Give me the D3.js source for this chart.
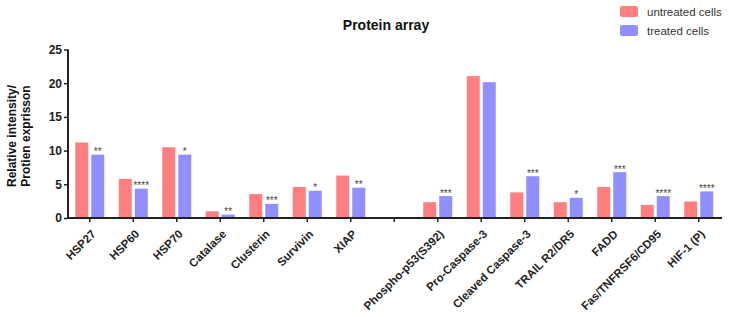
<!DOCTYPE html>
<html><head><meta charset="utf-8">
<script src="https://cdn.jsdelivr.net/npm/d3@7"></script>
<style>
body{margin:0;background:#fff;}
svg{display:block;font-family:"Liberation Sans",Arial,sans-serif;}
</style></head>
<body><svg id="c" width="729" height="317"></svg>
<script>
const categories = ["HSP27","HSP60","HSP70","Catalase","Clusterin","Survivin","XIAP","",
  "Phospho-p53(S392)","Pro-Caspase-3","Cleaved Caspase-3","TRAIL R2/DR5","FADD","Fas/TNFRSF6/CD95","HIF-1 (P)"];
const untreated = [11.2,5.8,10.5,1.0,3.55,4.6,6.3,null,2.35,21.05,3.8,2.35,4.6,1.95,2.45];
const treated   = [9.4,4.35,9.4,0.5,2.1,4.05,4.5,null,3.25,20.15,6.2,3.0,6.8,3.25,3.95];
const significance = ["**","****","*","**","***","*","**","","***","","***","*","***","****","****"];
const yTicks = [0,5,10,15,20,25];
const seriesNames = ["untreated cells","treated cells"];
const colors = ["#FF7F80","#8F8FFF"];

const svg = d3.select("#c");
const x = d3.scaleBand().domain(d3.range(categories.length)).range([68,720.5]).paddingInner(0).paddingOuter(0);
const y = d3.scaleLinear().domain([0,25]).range([218,49.5]);
const bw = 13, gap = 1.5;

// bars
categories.forEach((c,i)=>{
  const cx = x(i)+x.bandwidth()/2;
  if(untreated[i]!=null){
    svg.append("rect").attr("x",cx-gap-bw).attr("y",y(untreated[i])).attr("width",bw)
      .attr("height",y(0)-y(untreated[i])).attr("fill",colors[0]);
  }
  if(treated[i]!=null){
    svg.append("rect").attr("x",cx+gap).attr("y",y(treated[i])).attr("width",bw)
      .attr("height",y(0)-y(treated[i])).attr("fill",colors[1]);
    if(significance[i]){
      svg.append("text").attr("x",cx+gap+bw/2).attr("y",y(treated[i])+0.5)
        .attr("text-anchor","middle").attr("font-size",10).attr("fill","#444").text(significance[i]);
    }
  }
});

// y axis
const yAxis = d3.axisLeft(y).tickValues(yTicks).tickSize(4).tickPadding(2);
const gy = svg.append("g").attr("transform","translate(68,0)").call(yAxis);
gy.select(".domain").attr("stroke","#222").attr("stroke-width",2).attr("d","M0,"+y(25)+"V"+y(0));
gy.selectAll(".tick line").attr("stroke","#222").attr("stroke-width",1.5);
gy.selectAll(".tick text").attr("font-size",12).attr("font-weight","bold").attr("fill","#222")
  .attr("font-family","'Liberation Sans',Arial,sans-serif");

// x axis
const xAxis = d3.axisBottom(x).tickFormat(i=>categories[i]).tickSize(4).tickPadding(3);
const gx = svg.append("g").attr("transform","translate(0,218)").call(xAxis);
gx.select(".domain").attr("stroke","#222").attr("stroke-width",2).attr("d","M67,0H722");
gx.selectAll(".tick line").attr("stroke","#222").attr("stroke-width",1.5);
gx.selectAll(".tick text").attr("font-size",11.5).attr("font-weight","bold").attr("fill","#222")
  .attr("font-family","'Liberation Sans',Arial,sans-serif")
  .attr("text-anchor","end").attr("dy","0.35em")
  .attr("transform","translate(-1,9) rotate(-45)");

// title
svg.append("text").attr("x",386).attr("y",30).attr("text-anchor","middle")
  .attr("font-size",14).attr("font-weight","bold").attr("fill","#111").text("Protein array");

// y label
const yl = svg.append("text").attr("transform","translate(16,136) rotate(-90)")
  .attr("text-anchor","middle").attr("font-size",12).attr("font-weight","bold").attr("fill","#111");
yl.append("tspan").attr("x",0).attr("dy",0).text("Relative intensity/");
yl.append("tspan").attr("x",0).attr("dy",14).text("Protien exprisson");

// legend
seriesNames.forEach((n,i)=>{
  svg.append("rect").attr("x",620).attr("y",6+i*19).attr("width",18).attr("height",11)
    .attr("rx",2).attr("fill",colors[i]);
  svg.append("text").attr("x",647).attr("y",16+i*19).attr("font-size",11.5)
    .attr("fill","#333").text(n);
});
</script></body></html>
